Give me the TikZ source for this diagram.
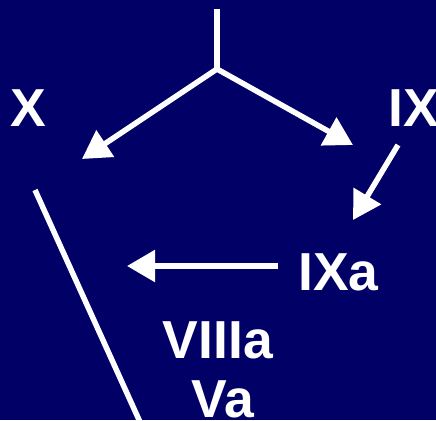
\documentclass[tikz,border=0pt]{standalone}
\usepackage{fontspec}
\setmainfont{Liberation Sans}
\usetikzlibrary{arrows.meta}
\definecolor{navy}{RGB}{0,0,102}
\begin{document}
\begin{tikzpicture}[x=1pt,y=-1pt,
  lbl/.style={text=white,font=\fontsize{53.5}{58}\selectfont\bfseries,inner sep=0pt},
  wline/.style={draw=white,line width=5.5pt},
  warrow/.style={wline,-{Triangle[length=28pt,width=31pt]}}]
  \fill[navy] (0,0) rectangle (436,420);
  \useasboundingbox (0,0) rectangle (436,420);

  % labels
  \node[lbl,anchor=base] (x) at (28,126) {X};
  \node[lbl,anchor=base west] (ix) at (388,126) {IX};
  \node[lbl,anchor=base west] (ixa) at (298,290) {IXa};
  \node[lbl,anchor=base] (viiia) at (218,358) {VIIIa};
  \node[lbl,anchor=base] (va) at (223,417) {Va};

  % branching point and arrow ends
  \coordinate (top) at (217,9);
  \coordinate (fork) at (217,69);
  \coordinate (tipx) at (82,159);
  \coordinate (tipix) at (353,145);
  \coordinate (fromix) at (398,145);
  \coordinate (tipixa) at (353,220);
  \coordinate (fromixa) at (278,266);
  \coordinate (tipleft) at (127,266);
  \coordinate (slant1) at (35,190);
  \coordinate (slant2) at (140,422);

  \draw[wline,line join=miter] (top) -- (fork);
  \draw[warrow] (fork) -- (tipx);
  \draw[warrow] (fork) -- (tipix);
  \draw[warrow] (fromix) -- (tipixa);
  \draw[warrow] (fromixa) -- (tipleft);
  \draw[wline] (slant1) -- (slant2);
\end{tikzpicture}
\end{document}
